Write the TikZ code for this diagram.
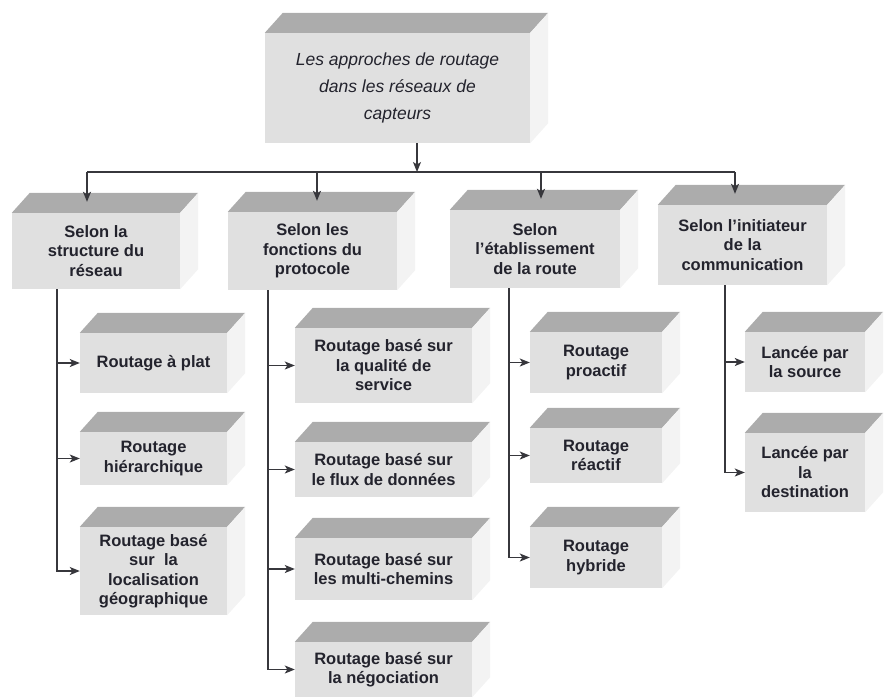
\documentclass[tikz,border=0pt]{standalone}
\usepackage{fontspec}
\usetikzlibrary{arrows.meta}
\newfontfamily\arialfont{Liberation Sans}
\definecolor{facegray}{RGB}{224,224,224}
\definecolor{topgray}{RGB}{172,172,172}
\definecolor{sidegray}{RGB}{243,243,243}
\definecolor{linegray}{RGB}{55,55,60}
\definecolor{textgray}{RGB}{35,35,45}
\tikzset{
	bloc/.style={fill=facegray, inner sep=0pt, align=center, text=textgray,
		font=\arialfont\bfseries\fontsize{16.5}{19.5}\selectfont},
	titre/.style={bloc, font=\arialfont\itshape\fontsize{17.5}{27}\selectfont},
	fleche/.style={draw=linegray, line width=1.3pt, -{Stealth[length=10pt,width=8pt,inset=2.5pt]}},
	trait/.style={draw=linegray, line width=1.3pt}
}
\begin{document}
\begin{tikzpicture}[x=1pt,y=1pt]
	\useasboundingbox (0,0) rectangle (885,-697);
	
	% top
	\node[titre, minimum width=265pt, minimum height=110pt] (approches) at (397.5,-88)
		{Les approches de routage\\dans les réseaux de\\capteurs};
	
	% criteria
	\node[bloc, minimum width=168pt, minimum height=76pt] (structure) at (96,-251)
		{Selon la\\structure du\\réseau};
	\node[bloc, minimum width=169pt, minimum height=78pt] (fonctions) at (312.5,-251)
		{Selon les\\fonctions du\\protocole};
	\node[bloc, minimum width=170pt, minimum height=78pt] (etablissement) at (535,-249)
		{Selon\\l’établissement\\de la route};
	\node[bloc, minimum width=169pt, minimum height=80pt] (initiateur) at (742.5,-245)
		{Selon l’initiateur\\de la\\communication};
	
	% structure du reseau
	\node[bloc, minimum width=147pt, minimum height=60pt] (plat) at (153.5,-363)
		{Routage à plat};
	\node[bloc, minimum width=147pt, minimum height=53pt] (hierarchique) at (153.5,-458.5)
		{Routage\\hiérarchique};
	\node[bloc, minimum width=147pt, minimum height=88pt] (geo) at (153.5,-571)
		{Routage basé\\sur\ \ la\\localisation\\géographique};
	
	% fonctions du protocole
	\node[bloc, minimum width=177pt, minimum height=75pt] (qos) at (383.5,-365.5)
		{Routage basé sur\\la qualité de\\service};
	\node[bloc, minimum width=177pt, minimum height=55pt] (flux) at (383.5,-469.5)
		{Routage basé sur\\le flux de données};
	\node[bloc, minimum width=177pt, minimum height=62pt] (multi) at (383.5,-569)
		{Routage basé sur\\les multi-chemins};
	\node[bloc, minimum width=177pt, minimum height=55pt] (nego) at (383.5,-669.5)
		{Routage basé sur\\la négociation};
	
	% etablissement de la route
	\node[bloc, minimum width=132pt, minimum height=61pt] (proactif) at (596,-362.5)
		{Routage\\proactif};
	\node[bloc, minimum width=132pt, minimum height=55pt] (reactif) at (596,-455.5)
		{Routage\\réactif};
	\node[bloc, minimum width=132pt, minimum height=61pt] (hybride) at (596,-557.5)
		{Routage\\hybride};
	
	% initiateur
	\node[bloc, minimum width=120pt, minimum height=60pt] (source) at (805,-362)
		{Lancée par\\la source};
	\node[bloc, minimum width=120pt, minimum height=79pt] (dest) at (805,-472.5)
		{Lancée par\\la\\destination};
	
	% top and side faces
	\foreach \n in {approches,structure,fonctions,etablissement,initiateur,plat,hierarchique,geo,qos,flux,multi,nego,proactif,reactif,hybride,source,dest}{
		\fill[topgray] (\n.north west) -- ++(18pt,20pt) -- ([shift={(18pt,20pt)}]\n.north east) -- (\n.north east) -- cycle;
		\fill[sidegray] (\n.north east) -- ++(18pt,20pt) -- ([shift={(18pt,20pt)}]\n.south east) -- (\n.south east) -- cycle;
	}
	
	% bus
	\coordinate (bus) at (417,-172);
	\coordinate (b1) at (87,-172);
	\coordinate (b2) at (317,-172);
	\coordinate (b3) at (541,-172);
	\coordinate (b4) at (735,-172);
	\draw[fleche] (approches.south -| bus) -- (bus);
	\draw[trait] (b1) -- (b4);
	\draw[fleche, shorten >=11pt] (b1) -- (b1 |- structure.north);
	\draw[fleche, shorten >=11pt] (b2) -- (b2 |- fonctions.north);
	\draw[fleche, shorten >=11pt] (b3) -- (b3 |- etablissement.north);
	\draw[fleche, shorten >=11pt] (b4) -- (b4 |- initiateur.north);
	
	% trunks
	\coordinate (t1) at (57,-289);
	\coordinate (t2) at (268,-290);
	\coordinate (t3) at (509,-288);
	\coordinate (t4) at (725,-285);
	\foreach \c in {plat,hierarchique,geo}
		\draw[fleche] (t1) |- (\c);
	\foreach \c in {qos,flux,multi,nego}
		\draw[fleche] (t2) |- (\c);
	\foreach \c in {proactif,reactif,hybride}
		\draw[fleche] (t3) |- (\c);
	\foreach \c in {source,dest}
		\draw[fleche] (t4) |- (\c);
\end{tikzpicture}
\end{document}
